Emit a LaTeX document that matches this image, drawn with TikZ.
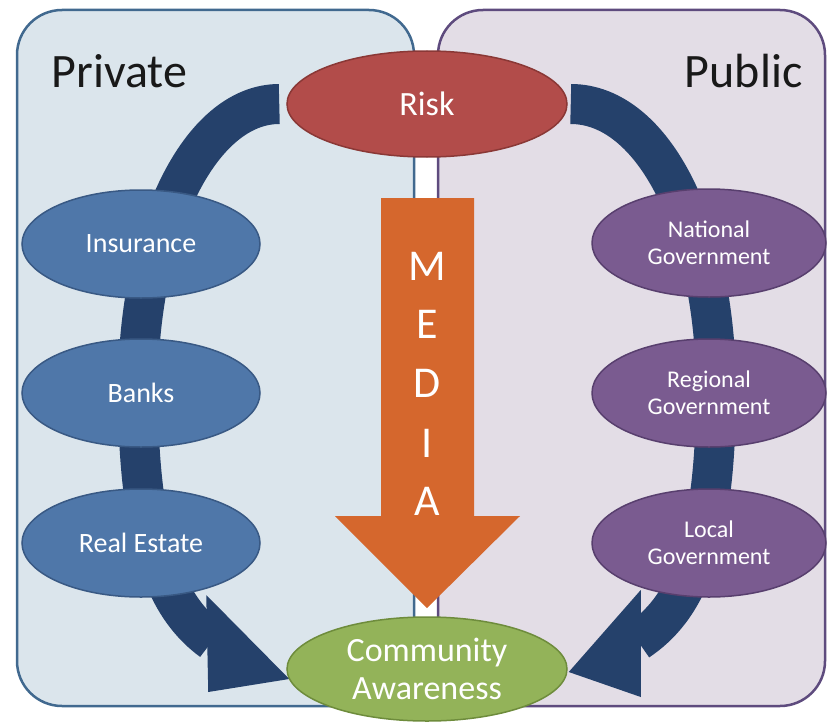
\documentclass[tikz,border=0pt]{standalone}
\usepackage{fontspec}
\setmainfont{Carlito}
\usetikzlibrary{shapes.geometric, backgrounds}

\definecolor{privfill}{HTML}{DBE5EC}
\definecolor{privline}{HTML}{41698F}
\definecolor{pubfill}{HTML}{E3DDE6}
\definecolor{publine}{HTML}{5E4B7E}
\definecolor{riskred}{HTML}{B24C4A}
\definecolor{riskline}{HTML}{8A3836}
\definecolor{bankblue}{HTML}{4F77A9}
\definecolor{bankline}{HTML}{395984}
\definecolor{govpurple}{HTML}{7A5B90}
\definecolor{govline}{HTML}{583F6E}
\definecolor{awaregreen}{HTML}{93B359}
\definecolor{awareline}{HTML}{6E8C3C}
\definecolor{mediaorange}{HTML}{D5672D}
\definecolor{ringnavy}{HTML}{25416B}

\begin{document}
\begin{tikzpicture}[x=1pt, y=-1pt,
			oval/.style={ellipse, draw, line width=1.5pt, inner sep=0pt, text=white, align=center},
			privoval/.style={oval, fill=bankblue, draw=bankline, minimum width=238pt, minimum height=108pt, font=\fontsize{28}{30}\selectfont},
			puboval/.style={oval, fill=govpurple, draw=govline, minimum width=234pt, minimum height=108pt, font=\fontsize{24}{27}\selectfont},
			ringarrow/.style={line width=40pt, draw=ringnavy},
			ringhead/.style={fill=ringnavy},
			panel/.style={line width=2.5pt, rounded corners=45pt},
			title/.style={font=\fontsize{48}{50}\selectfont, text=black!90}]
			
			\useasboundingbox (0,0) rectangle (827,725);
			
			% Ellissi principali
			\node[oval, fill=riskred, draw=riskline, minimum width=280pt, minimum height=106pt, font=\fontsize{34}{36}\selectfont] (risk) at (427,104) {Risk};
			\node[oval, fill=awaregreen, draw=awareline, minimum width=280pt, minimum height=104pt, font=\fontsize{34}{38}\selectfont] (aware) at (427,669) {Community\\Awareness};
			
			% --- Lato privato ---
			\node[privoval] (insurance) at (141,244) {Insurance};
			\node[privoval] (banks) at (141,393) {Banks};
			\node[privoval] (realestate) at (141,543) {Real Estate};
			
			% --- Lato pubblico ---
			\node[puboval] (national) at (709,243) {National\\Government};
			\node[puboval] (regional) at (709,393) {Regional\\Government};
			\node[puboval] (local) at (709,543) {Local\\Government};
			
			% Titoli
			\node[title, anchor=base west] (private) at (48,88) {Private};
			\node[title, anchor=base east] (public) at (806,88) {Public};
			
			% Freccia MEDIA
			\fill[mediaorange] (381,198) -- (474,198) -- (474,516) -- (520,516) -- (427,608) -- (335,516) -- (381,516) -- cycle;
			\foreach \l/\y [count=\i] in {M/280, E/338, D/397, I/457, A/515}
				\node[anchor=base, text=white, font=\fontsize{44}{44}\selectfont] (media\i) at (427,\y) {\l};
			
			% Punte delle frecce circolari
			\coordinate (lend) at ([shift={(-74,-28)}]aware.west);
			\coordinate (rend) at ([shift={(70,-28)}]aware.east);
			
			% Pannelli e frecce circolari sotto le ellissi
			\begin{scope}[on background layer]
				\draw[panel, fill=privfill, draw=privline] (17,10) rectangle (414,706);
				\draw[panel, fill=pubfill, draw=publine] (438,10) rectangle (825,706);
				\draw[ringarrow] ([xshift=-7pt]risk.west) .. controls (200,104) and (138,230) .. (138,390)
					.. controls (138,550) and (170,610) .. (lend);
				\draw[ringarrow] ([xshift=3pt]risk.east) .. controls (654,104) and (716,230) .. (716,390)
					.. controls (716,550) and (684,610) .. (rend);
				\fill[ringhead] ([shift={(-80,-74)}]aware.west) -- ([shift={(3,10)}]aware.west) -- ([shift={(-78,23)}]aware.west) -- cycle;
				\fill[ringhead] ([shift={(73,-79)}]aware.east) -- ([shift={(1,3)}]aware.east) -- ([shift={(73,28)}]aware.east) -- cycle;
			\end{scope}
		\end{tikzpicture}
\end{document}
